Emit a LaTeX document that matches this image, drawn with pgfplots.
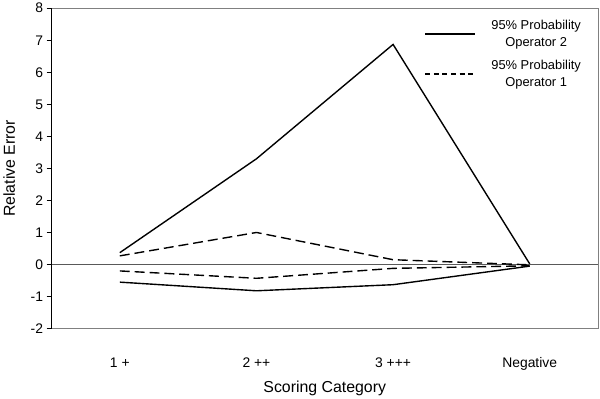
\documentclass[border=0pt]{standalone}
\usepackage{pgfplots}
\pgfplotsset{compat=1.18}
\usepackage{fontspec}
\setmainfont{Liberation Sans}
\newcommand{\chartfont}{\fontsize{13}{16.5}\selectfont}
\newcommand{\tickfont}{\fontsize{14}{16}\selectfont}
\newcommand{\titlefont}{\fontsize{16}{19}\selectfont}
\begin{document}
\begin{tikzpicture}
\begin{axis}[
  scale only axis,
  width=551pt, height=323pt,
  xmin=0, xmax=4, ymin=-2, ymax=8,
  xtick={0.5,1.5,2.5,3.5},
  xticklabels={1 +, 2 ++, 3 +++, Negative},
  xtick style={draw=none},
  ytick={-2,-1,0,1,2,3,4,5,6,7,8},
  ytick pos=left,
  tick align=outside,
  major tick length=5pt,
  ytick style={black, line width=0.6pt},
  axis line style={draw=none},
  /pgf/number format/assume math mode=true,
  every tick label/.append style={font=\tickfont},
  xticklabel style={yshift=-21pt},
  label style={font=\titlefont},
  xlabel={Scoring Category},
  ylabel={Relative Error},
  xlabel style={yshift=-3pt},
  ylabel style={yshift=-1pt},
  extra y ticks={0},
  extra y tick labels={},
  extra y tick style={grid=major, major grid style={black!65, line width=0.7pt}, tick style={draw=none}},
  legend style={draw=none, fill=none, font=\chartfont, at={(1,1)}, anchor=north east, xshift=-12pt, yshift=-8pt, cells={align=center}, row sep=9pt,
    /tikz/every odd column/.append style={column sep=14pt}},
  legend cell align=center,
]
\addplot[black, line width=1.4pt,
  legend image code/.code={\draw[black, line width=1.4pt] (0pt,0pt) -- (50pt,0pt);}] coordinates {(0.5,0.37) (1.5,3.3) (2.5,6.87) (3.5,0.02)};
\addlegendentry{95\% Probability\\Operator 2}
\addplot[black, line width=1.4pt, dash pattern=on 10pt off 5pt,
  legend image code/.code={\draw[black, line width=1.4pt, dash pattern=on 5pt off 3.7pt] (0pt,0pt) -- (50pt,0pt);}] coordinates {(0.5,0.27) (1.5,1.0) (2.5,0.15) (3.5,-0.01)};
\addlegendentry{95\% Probability\\Operator 1}
\addplot[black, line width=1.4pt, dash pattern=on 10pt off 5pt, forget plot] coordinates {(0.5,-0.2) (1.5,-0.43) (2.5,-0.12) (3.5,-0.04)};
\addplot[black, line width=1.4pt, forget plot] coordinates {(0.5,-0.55) (1.5,-0.82) (2.5,-0.63) (3.5,-0.05)};
\end{axis}
\draw[black!50, line width=0.7pt] (current axis.south west) rectangle (current axis.north east);
\draw[black, line width=0.7pt] (current axis.south west) -- (current axis.north west);
\path ([shift={(-47pt,-70pt)}]current axis.south west) rectangle ([shift={(2pt,7pt)}]current axis.north east);
\end{tikzpicture}
\end{document}
